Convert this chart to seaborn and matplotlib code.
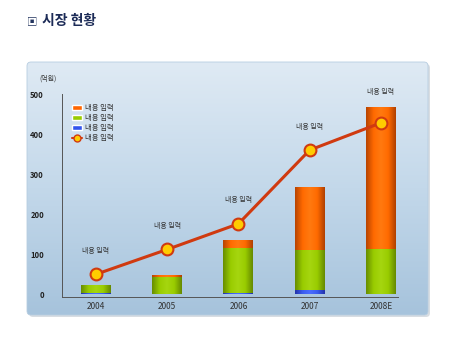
import numpy as np
import pandas as pd
import matplotlib
matplotlib.use("Agg")
import matplotlib.pyplot as plt
from matplotlib.colors import LinearSegmentedColormap
from matplotlib.patches import FancyBboxPatch, Patch
from matplotlib.lines import Line2D
import seaborn as sns

# ---- data ----
categories = ["2004", "2005", "2006", "2007", "2008E"]
blue_vals = [2, 1, 2, 11, 1]
green_vals = [20, 43, 114, 99, 111]
orange_vals = [0, 5, 20, 159, 355]
line_vals = [50, 112, 176, 360, 428]
series_labels = ["내용 입력", "내용 입력", "내용 입력", "내용 입력"]
point_labels = ["내용 입력"] * 5
y_ticks = [0, 100, 200, 300, 400, 500]
unit_label = "(억원)"
title_text = "시장 현황"

sns.set_style("white")
plt.rcParams["font.family"] = ["Noto Sans CJK KR", "DejaVu Sans"]

W, H = 450, 338
fig = plt.figure(figsize=(W / 100, H / 100), dpi=100)
fig.patch.set_facecolor("white")

# background panel with gradient
bg = fig.add_axes([0, 0, 1, 1])
bg.set_xlim(0, W)
bg.set_ylim(H, 0)
bg.axis("off")
px0, py0, px1, py1 = 27, 62, 428, 315
shadow = FancyBboxPatch((px0 + 2, py0 + 2), px1 - px0, py1 - py0,
                        boxstyle="round,pad=0,rounding_size=4",
                        fc="#d8dde2", ec="none", zorder=0)
bg.add_patch(shadow)
panel = FancyBboxPatch((px0, py0), px1 - px0, py1 - py0,
                       boxstyle="round,pad=0,rounding_size=4",
                       fc="none", ec="#b7cde0", lw=0.6, zorder=2)
bg.add_patch(panel)
grad_cmap = LinearSegmentedColormap.from_list("bgc", ["#dfeaf4", "#c3d8ea", "#a6c3dc"])
g = np.linspace(0, 1, 256).reshape(-1, 1)
im = bg.imshow(g, cmap=grad_cmap, aspect="auto", extent=(px0, px1, py1, py0), zorder=1)
im.set_clip_path(panel)

# title
bg.text(27, 21, "▣", fontsize=7.5, color="#22345e", va="center", ha="left")
bg.text(42, 20.5, title_text, fontsize=10, fontweight="bold", color="#1c2b57",
        va="center", ha="left")
bg.text(39, 79, unit_label, fontsize=5, color="#333333", va="center", ha="left")

# main axes
ax = fig.add_axes([62 / W, 1 - 296.7 / H, (398 - 62) / W, (296.7 - 94) / H])
ax.patch.set_alpha(0)

blue = np.array(blue_vals, float)
green = np.array(green_vals, float)
orange = np.array(orange_vals, float)
cum_bg = blue + green
cum_all = cum_bg + orange

df = pd.DataFrame({"cat": categories, "all": cum_all, "bg": cum_bg, "b": blue})
bw = 0.42
sns.barplot(data=df, x="cat", y="all", color="#ff6600", width=bw, ax=ax,
            saturation=1, zorder=3)
sns.barplot(data=df, x="cat", y="bg", color="#99cc00", width=bw, ax=ax,
            saturation=1, zorder=3)
sns.barplot(data=df, x="cat", y="b", color="#3355ee", width=bw, ax=ax,
            saturation=1, zorder=3)

# cylinder shading
shades = {
    0: ["#b84400", "#ff6a00", "#ff7a10", "#ff6a00", "#b04000"],
    1: ["#688e00", "#99cc00", "#a6d610", "#99cc00", "#668a00"],
    2: ["#2233aa", "#3a5cf0", "#4a6cff", "#3a5cf0", "#2233aa"],
}
patches = list(ax.patches)
for i, p in enumerate(patches):
    grp = i // len(categories)
    cmap = LinearSegmentedColormap.from_list(f"c{i}", shades[grp])
    x0, y0 = p.get_x(), p.get_y()
    w, h = p.get_width(), p.get_height()
    if h <= 0:
        continue
    p.set_facecolor("none")
    p.set_edgecolor("none")
    gi = ax.imshow(np.linspace(0, 1, 64).reshape(1, -1), cmap=cmap, aspect="auto",
                   extent=(x0, x0 + w, y0, y0 + h), zorder=3 + grp * 0.1,
                   interpolation="bilinear")
    gi.set_clip_path(p)

# line
xs = np.arange(len(categories))
sns.lineplot(x=xs, y=line_vals, ax=ax, color="#d03a10", lw=2.2, zorder=5,
             marker="o", markersize=8.5, markerfacecolor="#ffcc00",
             markeredgecolor="#d03a10", markeredgewidth=1.5)

for i, (v, lab) in enumerate(zip(line_vals, point_labels)):
    top = max(v, cum_all[i])
    off = 14 if top == v else 8
    ax.annotate(lab, (i, top), xytext=(0, off), textcoords="offset points",
                ha="center", va="bottom", fontsize=5, color="#333333", zorder=6)

ax.set_xlim(-0.477, 4.24)
ax.set_ylim(-6, 500)
ax.set_yticks(y_ticks)
ax.set_xlabel("")
ax.set_ylabel("")
ax.tick_params(axis="y", labelsize=5.5, colors="#222222", length=3, width=0.6,
               direction="out", pad=10)
ax.tick_params(axis="x", labelsize=6, colors="#333333", length=0, pad=4)
for lab in ax.get_yticklabels():
    lab.set_fontweight("bold")
for s in ["top", "right"]:
    ax.spines[s].set_visible(False)
ax.spines["left"].set_color("#555555")
ax.spines["bottom"].set_color("#555555")
ax.spines["left"].set_linewidth(0.7)
ax.spines["bottom"].set_linewidth(0.7)

handles = [Patch(fc="#ff6600"), Patch(fc="#99cc00"), Patch(fc="#3355ee"),
           Line2D([], [], color="#d03a10", lw=1.5, marker="o", markersize=5,
                  markerfacecolor="#ffcc00", markeredgecolor="#d03a10")]
leg = ax.legend(handles, series_labels, loc="upper left", bbox_to_anchor=(0.01, 0.985),
                frameon=False, fontsize=5.3, handlelength=1.4, handleheight=0.7,
                labelspacing=0.3, handletextpad=0.4)
for t in leg.get_texts():
    t.set_color("#333333")

fig.savefig("out.png", dpi=100)
